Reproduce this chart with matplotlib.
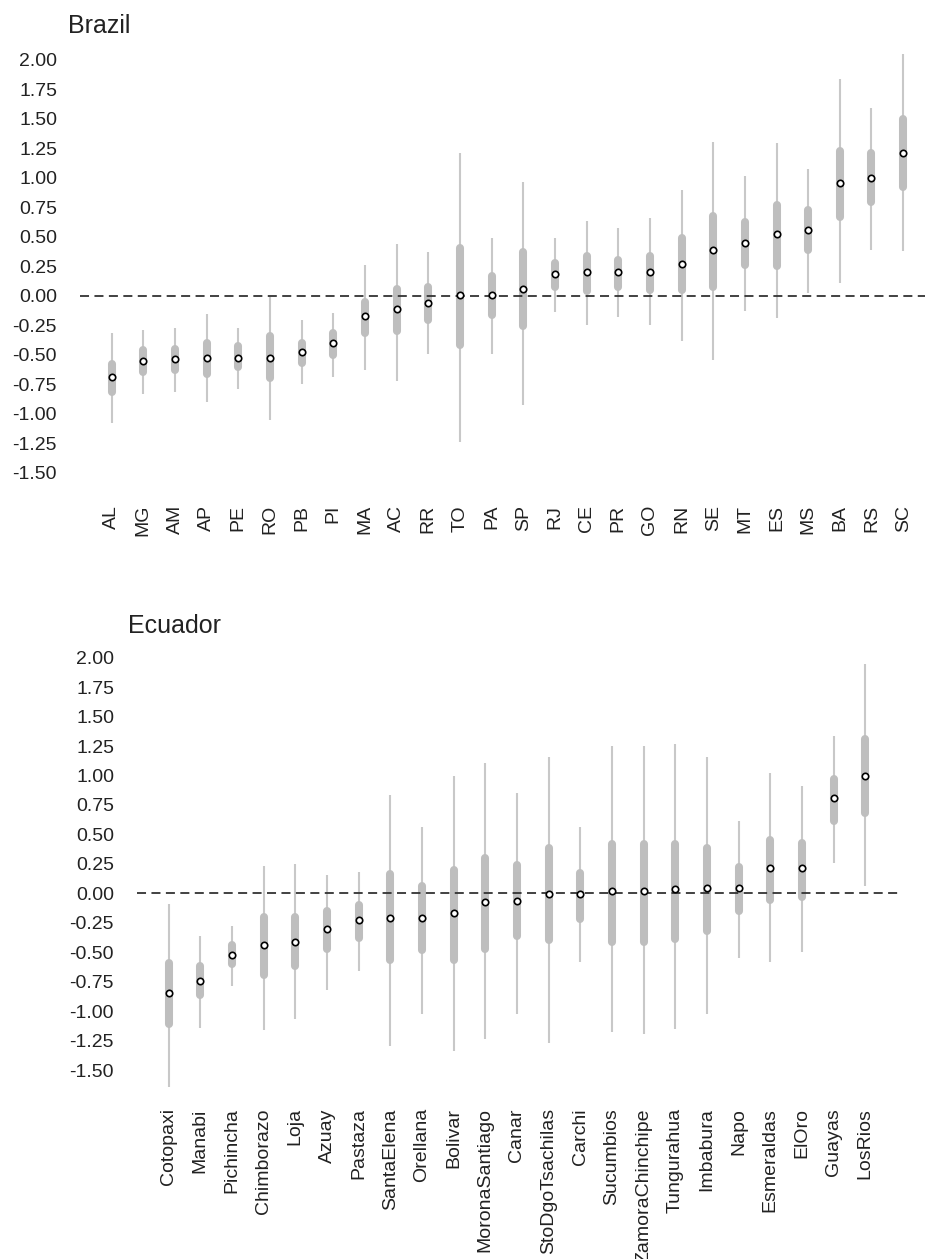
import matplotlib
matplotlib.use('Agg')
import matplotlib.pyplot as plt

plt.rcParams['font.family'] = ['Liberation Sans', 'DejaVu Sans']

# Brazil: median, inner interval (box) and outer interval (whisker)
br_states = ['AL', 'MG', 'AM', 'AP', 'PE', 'RO', 'PB', 'PI', 'MA', 'AC', 'RR', 'TO', 'PA',
             'SP', 'RJ', 'CE', 'PR', 'GO', 'RN', 'SE', 'MT', 'ES', 'MS', 'BA', 'RS', 'SC']
br_med = [-0.685, -0.55, -0.54, -0.525, -0.525, -0.525, -0.48, -0.40, -0.17, -0.115, -0.06, 0.005, 0.01,
          0.06, 0.185, 0.20, 0.20, 0.20, 0.265, 0.385, 0.45, 0.52, 0.56, 0.955, 0.995, 1.21]
br_box_lo = [-0.85, -0.68, -0.66, -0.69, -0.635, -0.73, -0.60, -0.53, -0.35, -0.33, -0.24, -0.445, -0.19,
             -0.285, 0.04, 0.01, 0.04, 0.015, 0.015, 0.04, 0.23, 0.22, 0.355, 0.64, 0.76, 0.895]
br_box_hi = [-0.545, -0.43, -0.42, -0.37, -0.40, -0.31, -0.37, -0.29, -0.02, 0.09, 0.105, 0.43, 0.20,
             0.40, 0.31, 0.37, 0.335, 0.37, 0.515, 0.705, 0.655, 0.795, 0.755, 1.26, 1.235, 1.53]
br_lo = [-1.075, -0.83, -0.82, -0.90, -0.79, -1.05, -0.75, -0.69, -0.63, -0.72, -0.49, -1.24, -0.49,
         -0.93, -0.14, -0.25, -0.18, -0.25, -0.38, -0.545, -0.13, -0.19, 0.025, 0.105, 0.39, 0.38]
br_hi = [-0.32, -0.29, -0.27, -0.155, -0.27, -0.01, -0.21, -0.145, 0.26, 0.435, 0.37, 1.21, 0.49,
         0.965, 0.49, 0.63, 0.57, 0.655, 0.895, 1.305, 1.01, 1.29, 1.07, 1.835, 1.59, 2.05]

# Ecuador
ec_prov = ['Cotopaxi', 'Manabi', 'Pichincha', 'Chimborazo', 'Loja', 'Azuay', 'Pastaza', 'SantaElena',
           'Orellana', 'Bolivar', 'MoronaSantiago', 'Canar', 'StoDgoTsachilas', 'Carchi', 'Sucumbios',
           'ZamoraChinchipe', 'Tungurahua', 'Imbabura', 'Napo', 'Esmeraldas', 'ElOro', 'Guayas', 'LosRios']
ec_med = [-0.85, -0.74, -0.523, -0.44, -0.41, -0.305, -0.226, -0.21, -0.21, -0.17, -0.076, -0.062,
          -0.006, -0.006, 0.02, 0.02, 0.034, 0.048, 0.048, 0.212, 0.212, 0.806, 0.999]
ec_box_lo = [-1.137, -0.89, -0.628, -0.72, -0.65, -0.50, -0.405, -0.594, -0.51, -0.594, -0.50, -0.396,
             -0.43, -0.246, -0.444, -0.444, -0.419, -0.348, -0.184, -0.09, -0.065, 0.588, 0.656]
ec_box_hi = [-0.56, -0.59, -0.41, -0.175, -0.175, -0.12, -0.07, 0.19, 0.093, 0.226, 0.334, 0.269,
             0.416, 0.204, 0.447, 0.447, 0.447, 0.416, 0.255, 0.481, 0.458, 1.004, 1.338]
ec_lo = [-1.646, -1.146, -0.784, -1.16, -1.066, -0.82, -0.656, -1.296, -1.024, -1.335, -1.239, -1.024,
         -1.267, -0.586, -1.174, -1.197, -1.154, -1.024, -0.546, -0.586, -0.495, 0.255, 0.065]
ec_hi = [-0.09, -0.36, -0.277, 0.235, 0.25, 0.156, 0.184, 0.835, 0.56, 0.999, 1.103, 0.849,
         1.16, 0.56, 1.253, 1.253, 1.267, 1.16, 0.617, 1.024, 0.914, 1.335, 1.946]

yticks = [2.0, 1.75, 1.5, 1.25, 1.0, 0.75, 0.5, 0.25, 0.0, -0.25, -0.5, -0.75, -1.0, -1.25, -1.5]

W, H = 925, 1259
fig = plt.figure(figsize=(W / 100, H / 100), dpi=100)


def panel(rect_px, ylim, names, med, blo, bhi, lo, hi, title, title_xy):
    l, t, r, b = rect_px
    ax = fig.add_axes([l / W, 1 - b / H, (r - l) / W, (b - t) / H])
    x = range(len(names))
    # whiskers
    ax.vlines(x, lo, hi, color='#c8c8c8', lw=1.5, zorder=1)
    # boxes, shortened a touch so the round caps end at the values
    cap = 0.03
    ax.vlines(x, [v + cap for v in blo], [v - cap for v in bhi], color='#bebebe', lw=5.8,
              capstyle='round', zorder=2)
    ax.axhline(0, color='#333333', lw=1.3, ls=(0, (5, 3)), zorder=3)
    ax.plot(x, med, 'o', ms=4.6, mfc='white', mec='black', mew=1.2, zorder=4)
    ax.set_xlim(-1, len(names) - 1 + (r - l) / 31.66 - len(names))
    ax.set_ylim(*ylim)
    ax.set_xticks(list(x))
    ax.set_xticklabels(names, rotation=90, va='top', ha='center')
    ax.set_yticks(yticks)
    ax.set_yticklabels(['%.2f' % v for v in yticks])
    ax.tick_params(axis='x', length=0, pad=10.5, labelsize=14, labelcolor='#222222')
    ax.tick_params(axis='y', length=0, pad=16.5, labelsize=14, labelcolor='#222222')
    for s in ax.spines.values():
        s.set_visible(False)
    fig.text(title_xy[0] / W, 1 - title_xy[1] / H, title, fontsize=18, color='#222222',
             va='baseline', ha='left')
    return ax


panel((80, 45.5, 925, 490.4), (-1.65, 2.12), br_states, br_med, br_box_lo, br_box_hi, br_lo, br_hi,
      'Brazil', (68, 33))
panel((137, 643.6, 899, 1093.6), (-1.70, 2.12), ec_prov, ec_med, ec_box_lo, ec_box_hi, ec_lo, ec_hi,
      'Ecuador', (128, 633))

fig.savefig('out.png', dpi=100)
